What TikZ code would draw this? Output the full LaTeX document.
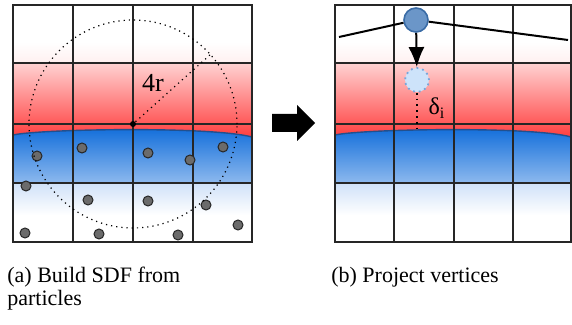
\documentclass[tikz,border=0pt]{standalone}
\usepackage{fontspec}
\setmainfont{Liberation Serif}
\usepackage{tikz}
\usetikzlibrary{arrows.meta,positioning}

\definecolor{sdfred}{HTML}{FF3C3C}
\definecolor{sdfpink}{HTML}{FFD2D2}
\definecolor{sdfblue}{HTML}{0F6CDA}
\definecolor{sdfsky}{HTML}{8DB9EE}
\definecolor{sdfpale}{HTML}{CFE1F8}
\definecolor{rimblue}{HTML}{22508E}
\definecolor{vtxblue}{HTML}{6B96C8}
\definecolor{vtxedge}{HTML}{3A6CA6}
\definecolor{ghostblue}{HTML}{CDE3FA}
\definecolor{ghostedge}{HTML}{78A6DA}

\begin{document}
\begin{tikzpicture}[x=0.5pt,y=-0.5pt,>=Latex,
  gridline/.style={draw=black!85,line width=0.8pt},
  particle/.style={circle,draw=black!85,fill=black!58,line width=0.5pt,minimum size=5pt,inner sep=0pt},
  vertex/.style={circle,draw=vtxedge,fill=vtxblue,line width=0.8pt,minimum size=12pt,inner sep=0pt},
  ghost/.style={circle,draw=ghostedge,fill=ghostblue,line width=0.9pt,dotted,minimum size=12pt,inner sep=0pt},
  caption/.style={font=\fontsize{11}{11.5}\selectfont,inner sep=0pt}]
\useasboundingbox[fill=white] (0,0) rectangle (572,325);

% (a) build SDF from particles
\shade[top color=white,bottom color=red!6] (13,42) rectangle (252,63);
\shade[top color=sdfpink,bottom color=sdfred] (13,63) rectangle (252,138);
\shade[top color=sdfblue,bottom color=sdfsky] (13,135) .. controls (40,129) and (210,126) .. (252,137) -- (252,183) -- (13,183) -- cycle;
\shade[top color=sdfpale,bottom color=white] (13,183) rectangle (252,215);
\draw[rimblue,line width=0.7pt] (13,135) .. controls (40,129) and (210,126) .. (252,137);
\draw[gridline] (13,5) rectangle (252,242);
\draw[gridline] (73,5) -- (73,242);
\draw[gridline] (133,5) -- (133,242);
\draw[gridline] (193,5) -- (193,242);
\draw[gridline] (13,63) -- (252,63);
\draw[gridline] (13,124) -- (252,124);
\draw[gridline] (13,183) -- (252,183);

\node[particle] (p1) at (37,156) {};
\node[particle] (p2) at (82,148) {};
\node[particle] (p3) at (148,153) {};
\node[particle] (p4) at (190,160) {};
\node[particle] (p5) at (223,147) {};
\node[particle] (p6) at (26,186) {};
\node[particle] (p7) at (88,200) {};
\node[particle] (p8) at (148,201) {};
\node[particle] (p9) at (206,205) {};
\node[particle] (p10) at (238,225) {};
\node[particle] (p11) at (25,233) {};
\node[particle] (p12) at (99,234) {};
\node[particle] (p13) at (178,235) {};

\node[circle,fill=black,minimum size=3pt,inner sep=0pt] (ctr) at (133,124) {};
\coordinate (rim) at (211,54);
\draw[dotted,line width=0.6pt] (ctr.center) circle [radius=52pt];
\draw[dotted,line width=0.6pt] (ctr) -- (rim);
\node[font=\fontsize{13}{13}\selectfont,inner sep=0pt] (rlabel) at (153,83) {4r};

% block arrow between panels
\fill[black] (272,114) -- (297,114) -- (297,105) -- (315,123) -- (297,141) -- (297,132) -- (272,132) -- cycle;

% (b) project vertices
\shade[top color=white,bottom color=red!6] (335,42) rectangle (571,63);
\shade[top color=sdfpink,bottom color=sdfred] (335,63) rectangle (571,138);
\shade[top color=sdfblue,bottom color=sdfsky] (335,135) .. controls (362,129) and (532,126) .. (571,137) -- (571,183) -- (335,183) -- cycle;
\shade[top color=sdfpale,bottom color=white] (335,183) rectangle (571,215);
\draw[rimblue,line width=0.7pt] (335,135) .. controls (362,129) and (532,126) .. (571,137);
\draw[gridline] (335,5) rectangle (571,242);
\draw[gridline] (394,5) -- (394,242);
\draw[gridline] (454,5) -- (454,242);
\draw[gridline] (513,5) -- (513,242);
\draw[gridline] (335,63) -- (571,63);
\draw[gridline] (335,124) -- (571,124);
\draw[gridline] (335,183) -- (571,183);

\coordinate (mleft) at (339,37);
\coordinate (mright) at (568,40);
\coordinate (surf) at (417,129);
\node[vertex] (vtx) at (416,20) {};
\node[ghost] (gst) at (417,80) {};
\draw[line width=1pt] (mleft) -- (vtx) -- (mright);
\draw[line width=1pt,-{Latex[length=10pt,width=8pt]}] (vtx) -- (gst);
\draw[dotted,line width=0.9pt] (gst) -- (surf);
\node[font=\fontsize{12}{12}\selectfont,inner sep=0pt] (dlabel) at (437,108) {δ\textsubscript{i}};

% captions
\node[caption,anchor=north west,align=left] (capa) at (7,267) {(a) Build SDF from\\particles};
\node[caption,anchor=north] (capb) at (415,267) {(b) Project vertices};
\end{tikzpicture}
\end{document}
